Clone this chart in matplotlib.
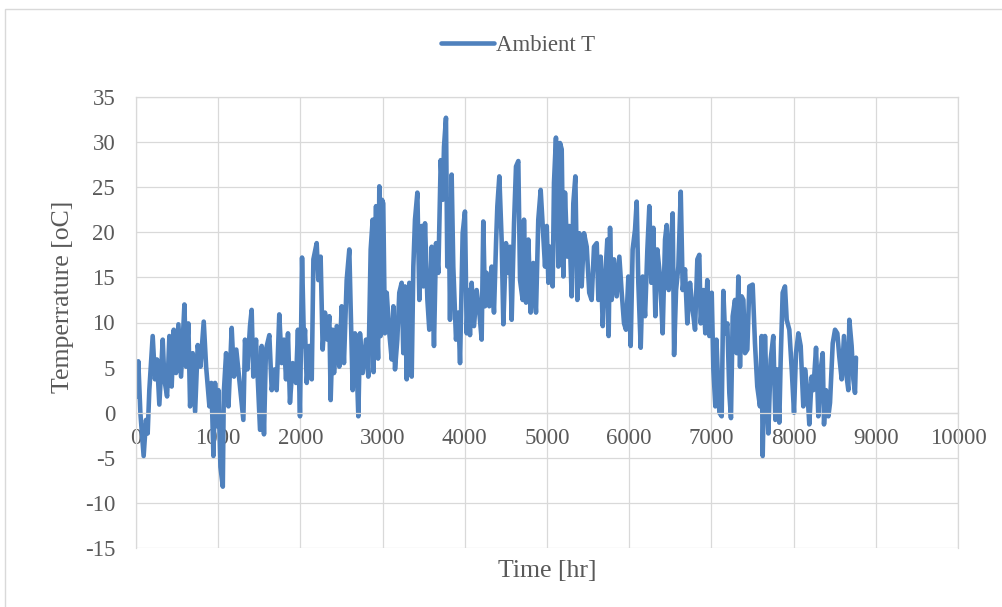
import matplotlib.pyplot as plt
from matplotlib.patches import Rectangle

# hourly ambient temperature, envelope (hour, degC)
hours = [
    0, 12, 28, 53, 93, 122, 142, 162, 203, 231, 256, 284, 325, 345, 378, 406,
    434, 459, 487, 516, 548, 589, 609, 637, 658, 690, 719, 751, 784, 824, 853,
    893, 917, 942, 962, 987, 1003, 1027, 1056, 1068, 1096, 1125, 1164, 1192,
    1220, 1265, 1306, 1326, 1355, 1387, 1407, 1427, 1460, 1488, 1509, 1529,
    1557, 1581, 1622, 1651, 1687, 1711, 1743, 1772, 1800, 1825, 1849, 1873,
    1906, 1946, 1970, 1995, 2020, 2044, 2056, 2077, 2109, 2138, 2158, 2198,
    2218, 2246, 2271, 2299, 2328, 2352, 2368, 2393, 2409, 2442, 2473, 2502,
    2530, 2563, 2595, 2611, 2636, 2664, 2685, 2705, 2725, 2758, 2798, 2826,
    2855, 2879, 2890, 2920, 2936, 2945, 2960, 2976, 2993, 3008, 3028, 3050,
    3082, 3111, 3131, 3151, 3179, 3203, 3232, 3252, 3272, 3293, 3325, 3354,
    3374, 3394, 3423, 3447, 3476, 3496, 3516, 3545, 3568, 3597, 3625, 3650,
    3678, 3707, 3731, 3747, 3771, 3787, 3804, 3820, 3840, 3860, 3893, 3921,
    3942, 3974, 4002, 4023, 4043, 4063, 4083, 4112, 4144, 4177, 4205, 4225,
    4246, 4266, 4298, 4327, 4355, 4380, 4396, 4420, 4448, 4469, 4501, 4530,
    4550, 4570, 4599, 4623, 4651, 4672, 4704, 4720, 4745, 4773, 4801, 4833,
    4866, 4894, 4923, 4948, 4976, 4997, 5017, 5037, 5069, 5085, 5109, 5138,
    5158, 5179, 5199, 5219, 5247, 5272, 5300, 5320, 5345, 5369, 5393, 5422,
    5450, 5483, 5514, 5543, 5572, 5605, 5625, 5653, 5678, 5706, 5734, 5750,
    5767, 5787, 5815, 5848, 5880, 5909, 5937, 5961, 5990, 6018, 6042, 6071,
    6091, 6111, 6140, 6164, 6193, 6221, 6245, 6269, 6294, 6318, 6342, 6375,
    6407, 6436, 6456, 6481, 6505, 6529, 6546, 6570, 6598, 6627, 6651, 6679,
    6707, 6740, 6772, 6801, 6829, 6853, 6870, 6902, 6926, 6950, 6975, 7004,
    7024, 7048, 7061, 7097, 7125, 7145, 7166, 7194, 7218, 7238, 7259, 7287,
    7307, 7328, 7348, 7368, 7389, 7409, 7437, 7461, 7502, 7530, 7558, 7591,
    7611, 7624, 7652, 7672, 7693, 7721, 7753, 7778, 7802, 7826, 7843, 7867,
    7895, 7916, 7948, 7977, 8005, 8029, 8058, 8086, 8118, 8139, 8167, 8191,
    8220, 8240, 8273, 8301, 8330, 8354, 8370, 8394, 8423, 8443, 8476, 8504,
    8532, 8556, 8585, 8613, 8645, 8666, 8678, 8706, 8727, 8747, 8759,
]
temps = [
    5.1, 1.8, 5.7, 0.0, -4.8, -0.8, -2.3, 2.5, 8.5, 3.7, 5.9, 0.9, 8.1, 3.7, 1.8, 8.5,
    2.9, 9.2, 4.4, 9.8, 4.0, 12.0, 5.1, 9.9, 0.7, 6.6, 0.1, 7.5, 5.1, 10.1, 5.1,
    0.7, 3.3, -4.8, 3.3, -1.5, 2.5, -6.0, -8.2, 2.2, 6.6, 0.7, 9.4, 4.0,
    7.0, 2.9, -0.8, 8.1, 4.8, 9.6, 11.4, 4.0, 8.1, 2.5, -1.9, 7.4,
    -2.4, 7.0, 8.6, 2.5, 4.8, 2.5, 10.9, 5.5, 8.1, 3.7, 8.8, 1.1,
    5.5, 3.3, 9.2, -0.4, 17.2, 7.4, 9.2, 3.3, 7.4, 3.7, 17.0, 18.8,
    14.7, 17.3, 7.0, 11.1, 8.1, 10.7, 1.4, 9.2, 4.4, 9.6, 5.1, 11.8,
    5.5, 14.7, 18.1, 11.8, 2.5, 8.8, 5.1, -0.4, 8.8, 4.4, 8.1, 4.0,
    18.1, 21.4, 4.5, 22.9, 8.8, 6.0, 25.1, 8.5, 23.6, 23.2, 8.8, 13.3,
    8.8, 5.9, 11.8, 4.8, 8.1, 13.3, 14.4, 6.6, 14.0, 3.7, 14.4, 4.0,
    16.2, 21.4, 24.4, 12.5, 20.7, 14.0, 21.0, 12.5, 9.2, 18.4, 7.4, 18.8,
    15.5, 28.0, 23.6, 29.5, 32.7, 16.2, 23.6, 10.3, 26.4, 16.2, 8.1, 11.1,
    5.5, 19.9, 22.3, 8.8, 13.6, 8.6, 14.4, 9.6, 13.6, 11.1, 8.1, 21.2,
    11.8, 15.5, 11.8, 16.2, 11.1, 18.8, 22.9, 26.2, 19.2, 9.8, 18.8, 15.5,
    18.4, 10.3, 21.0, 27.3, 27.9, 14.7, 12.5, 21.4, 12.2, 19.2, 11.1, 16.6,
    11.1, 21.4, 24.7, 20.7, 16.2, 20.7, 14.4, 18.4, 14.0, 25.5, 30.5, 16.2,
    29.9, 29.2, 15.1, 24.4, 17.3, 20.7, 12.9, 23.2, 26.2, 12.5, 19.9, 14.0,
    19.9, 18.4, 13.3, 12.5, 18.4, 18.8, 12.5, 17.3, 9.6, 14.7, 19.2, 8.5,
    20.5, 12.5, 17.0, 12.9, 17.3, 13.3, 9.9, 9.2, 15.1, 7.4, 18.1, 20.3,
    23.4, 14.4, 7.2, 15.1, 10.7, 18.1, 22.9, 14.4, 20.5, 10.7, 18.1, 15.1,
    8.8, 19.2, 20.8, 13.6, 18.1, 22.1, 6.4, 13.6, 16.2, 24.5, 13.6, 15.9,
    9.9, 14.4, 11.4, 9.2, 17.0, 17.5, 9.9, 13.6, 8.8, 14.7, 8.5, 13.3,
    4.8, 0.7, 8.1, 0.0, -0.4, 13.5, 8.8, 9.9, 2.2, -0.6, 10.7, 12.5,
    6.6, 15.1, 5.1, 12.9, 12.5, 6.6, 7.0, 14.0, 14.2, 7.7, 2.9, 0.7,
    8.5, -4.8, 8.5, 2.2, -2.3, 5.9, 8.5, -0.8, 4.8, -1.1, 5.9, 13.3,
    14.0, 10.3, 9.2, 4.8, 0.0, 6.6, 8.8, 7.4, 0.7, 4.8, 2.5, -1.3,
    4.0, 2.5, 7.2, -0.4, 4.8, 6.6, -1.3, 2.5, -0.4, 1.1, 7.7, 9.2,
    8.8, 6.2, 3.7, 8.5, 4.0, 2.5, 10.3, 7.4, 3.7, 2.2, 6.1,
]

xticks = list(range(0, 10001, 1000))
yticks = list(range(-15, 36, 5))

plt.rcParams['font.family'] = ['Liberation Serif', 'DejaVu Serif']
plt.rcParams['axes.unicode_minus'] = False  # Excel uses a plain hyphen
grey = '#595959'
gridc = '#d9d9d9'

fig = plt.figure(figsize=(10.03, 6.07), dpi=100)
ax = fig.add_axes([136 / 1003, 1 - 548 / 607, 822 / 1003, 451 / 607])

ax.plot(hours, temps, color='#4f81bd', lw=3.3, solid_joinstyle='round',
        solid_capstyle='round', label='Ambient T')

ax.set_xlim(0, 10000)
ax.set_ylim(-15, 35)
ax.set_xticks(xticks)
ax.set_yticks(yticks)
ax.grid(True, color=gridc, lw=0.9)
for s in ax.spines.values():
    s.set_color(gridc)
    s.set_linewidth(0.9)
# x labels sit on the zero line, like the Excel original
ax.spines['bottom'].set_position(('data', 0))
ax.tick_params(length=0, labelsize=16.5, labelcolor=grey)
ax.tick_params(axis='x', pad=11)
ax.tick_params(axis='y', pad=15)

fig.text(547 / 1003, 1 - 571 / 607, 'Time [hr]', ha='center', va='center',
         fontsize=18.5, color=grey)
fig.text(63 / 1003, 1 - 297 / 607, 'Temperrature [oC]', ha='center', va='center',
         rotation=90, fontsize=18.5, color=grey)

fig.legend(loc='center', bbox_to_anchor=(518 / 1003, 1 - 45 / 607), frameon=False,
           fontsize=16.5, handlelength=2.3, handletextpad=0.1, labelcolor=grey)

fig.add_artist(Rectangle((5 / 1003, -0.05), 1.1, 1.05 - 9 / 607, transform=fig.transFigure,
                         fill=False, edgecolor=gridc, lw=1))

fig.savefig('out.png', dpi=100)
